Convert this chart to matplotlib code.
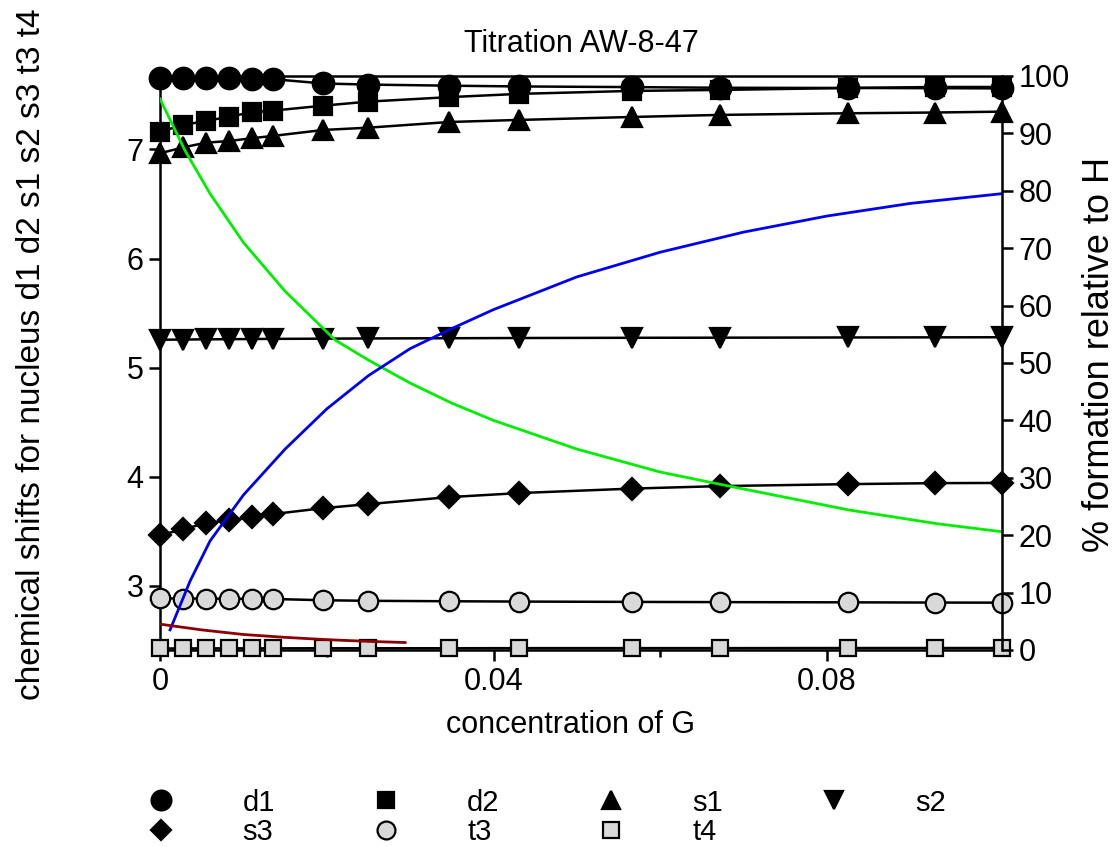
import matplotlib.pyplot as plt
from matplotlib.lines import Line2D

plt.rcParams['font.family'] = ['Liberation Sans', 'DejaVu Sans']

# concentration of guest G
conc = [0, 0.0028, 0.0055, 0.0083, 0.011, 0.0135, 0.0196, 0.025,
        0.0347, 0.0431, 0.0566, 0.0672, 0.0825, 0.093, 0.101]

# observed chemical shifts (ppm)
d1 = [7.656, 7.655, 7.654, 7.652, 7.650, 7.645, 7.605, 7.595,
      7.585, 7.578, 7.572, 7.566, 7.564, 7.562, 7.560]
d2 = [7.163, 7.225, 7.261, 7.301, 7.341, 7.356, 7.402, 7.439,
      7.480, 7.510, 7.537, 7.546, 7.564, 7.573, 7.573]
s1 = [6.965, 7.020, 7.062, 7.078, 7.103, 7.124, 7.179, 7.200,
      7.252, 7.271, 7.298, 7.317, 7.332, 7.339, 7.347]
s2 = [5.255, 5.257, 5.259, 5.260, 5.262, 5.263, 5.265, 5.267,
      5.269, 5.271, 5.273, 5.274, 5.276, 5.277, 5.278]
s3 = [3.463, 3.518, 3.573, 3.600, 3.628, 3.656, 3.711, 3.748,
      3.812, 3.849, 3.890, 3.913, 3.931, 3.940, 3.942]
t3 = [2.883, 2.882, 2.881, 2.880, 2.879, 2.878, 2.866, 2.861,
      2.857, 2.854, 2.851, 2.849, 2.847, 2.845, 2.844]
t4 = [2.424, 2.424, 2.425, 2.425, 2.425, 2.425, 2.426, 2.426,
      2.426, 2.427, 2.427, 2.427, 2.428, 2.428, 2.428]

# species distribution (% relative to H)
free_x = [0, 0.003, 0.006, 0.010, 0.015, 0.021, 0.025, 0.030,
          0.035, 0.040, 0.050, 0.060, 0.0674, 0.0826, 0.0932, 0.101]
free_pct = [96, 87, 79.5, 71, 62.5, 54, 50.5, 46.5,
            43, 40, 35, 31, 28.8, 24.4, 22, 20.6]
hg_x = [0.0012, 0.0036, 0.006, 0.010, 0.015, 0.020, 0.025, 0.030,
        0.035, 0.040, 0.050, 0.060, 0.070, 0.080, 0.090, 0.101]
hg_pct = [3.5, 12, 19, 27, 35, 42, 47.8, 52.5,
          56, 59.3, 65, 69.3, 72.8, 75.6, 77.8, 79.5]
hg2_x = [0, 0.005, 0.010, 0.015, 0.020, 0.025, 0.0294]
hg2_pct = [4.5, 3.5, 2.7, 2.2, 1.8, 1.5, 1.3]

grey = '#d9d9d9'
series = [
    ('d1', d1, 'o', 'black', 15.5),
    ('d2', d2, 's', 'black', 13),
    ('s1', s1, '^', 'black', 14.5),
    ('s2', s2, 'v', 'black', 14.5),
    ('s3', s3, 'D', 'black', 11),
    ('t3', t3, 'o', grey, 14),
    ('t4', t4, 's', grey, 12),
]

fig = plt.figure(figsize=(11.2, 8.47), dpi=100)
ax = fig.add_axes([0.1429, 0.2326, 0.7518, 0.6777])

handles = {}
for name, vals, mk, fc, ms in series:
    ax.plot(conc, vals, color='black', lw=1.8, marker=mk, ms=ms,
            mfc=fc, mec='black', mew=1.6, clip_on=False, zorder=3)
    handles[name] = Line2D([], [], ls='none', marker=mk, ms=ms * 0.92,
                           mfc=fc, mec='black', mew=1.6)

ax.set_xlim(0, 0.101)
ax.set_ylim(2.41, 7.674)
ax.set_xticks([0, 0.04, 0.08])
ax.set_xticklabels(['0', '0.04', '0.08'])
ax.set_xticks([0.02, 0.06], minor=True)
ax.set_yticks([3, 4, 5, 6, 7])
ax.tick_params(axis='both', which='major', direction='out', length=8,
               width=1.8, labelsize=22, pad=4)
ax.tick_params(axis='x', which='minor', direction='out', length=5, width=1.8)
for side in ['left', 'bottom', 'top']:
    ax.spines[side].set_linewidth(1.8)
ax.spines['right'].set_visible(False)

ax2 = ax.twinx()
ax2.plot(free_x, free_pct, color='#00ee00', lw=2)
ax2.plot(hg_x, hg_pct, color='#0000ee', lw=2)
ax2.plot(hg2_x, hg2_pct, color='#8b0000', lw=2)
ax2.set_ylim(0, 100)
ax2.set_yticks(range(0, 101, 10))
ax2.tick_params(axis='y', direction='out', length=8, width=1.8,
                labelsize=22, pad=4)
for side in ['left', 'bottom', 'top']:
    ax2.spines[side].set_visible(False)
ax2.spines['right'].set_linewidth(1.8)

ax.set_title('Titration AW-8-47', fontsize=22, pad=17)
ax.set_xlabel('concentration of G', fontsize=22)
ax.xaxis.set_label_coords(0.487, -0.105)
ax.set_ylabel('chemical shifts for nucleus d1 d2 s1 s2 s3 t3 t4',
              fontsize=24)
ax.yaxis.set_label_coords(-0.134, 0.515)
ax2.set_ylabel('% formation relative to H', fontsize=26)
ax2.yaxis.set_label_coords(1.095, 0.515)

order = ['d1', 's3', 'd2', 't3', 's1', 't4', 's2']
fig.legend([handles[k] for k in order], order, ncol=4, frameon=False,
           loc='upper left', bbox_to_anchor=(0.107, 0.1),
           fontsize=21, handlelength=1.0, handletextpad=2.3,
           columnspacing=3.3, labelspacing=0.05)

fig.savefig('out.png', dpi=100)
